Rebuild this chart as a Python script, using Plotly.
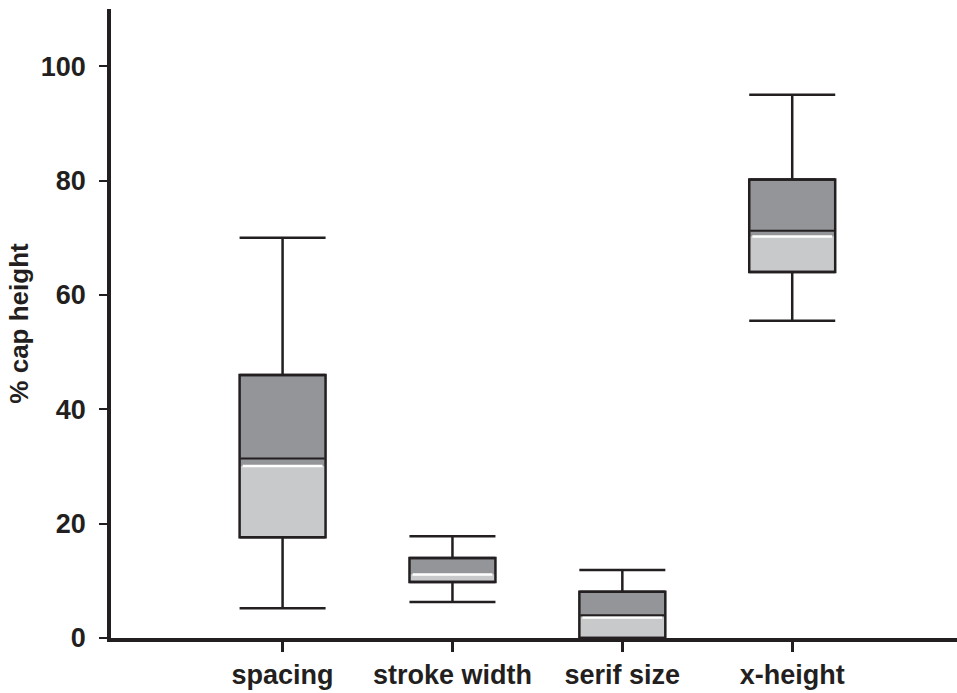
import plotly.graph_objects as go

categories = ["spacing", "stroke width", "serif size", "x-height"]
whisker_low = [5.2, 6.3, 0.0, 55.5]
q1 = [17.6, 9.8, 0.0, 64.0]
median = [30.1, 11.1, 3.6, 70.2]
mean = [31.4, None, 4.0, 71.2]
q3 = [46.0, 14.0, 8.1, 80.2]
whisker_high = [70.0, 17.8, 11.9, 95.0]
y_ticks = [0, 20, 40, 60, 80, 100]

DARK = "#939598"
LIGHT = "#c8c9cb"
INK = "#231f20"
BOXW = 0.506

fig = go.Figure()

# lower (light) half
fig.add_trace(go.Bar(
    x=categories, base=q1, y=[m - a for m, a in zip(median, q1)],
    width=BOXW, marker=dict(color=LIGHT, line=dict(width=0)), hoverinfo="skip"))
# upper (dark) half
fig.add_trace(go.Bar(
    x=categories, base=median, y=[b - m for b, m in zip(q3, median)],
    width=BOXW, marker=dict(color=DARK, line=dict(width=0)), hoverinfo="skip"))

# whiskers with caps (upper)
fig.add_trace(go.Scatter(
    x=categories, y=q3, mode="markers", marker=dict(opacity=0, size=1),
    error_y=dict(type="data", symmetric=False,
                 array=[h - b for h, b in zip(whisker_high, q3)],
                 arrayminus=[0] * len(q3),
                 width=43, thickness=2.5, color=INK),
    hoverinfo="skip"))
# whiskers with caps (lower)
fig.add_trace(go.Scatter(
    x=categories, y=q1, mode="markers", marker=dict(opacity=0, size=1),
    error_y=dict(type="data", symmetric=False,
                 array=[0] * len(q1),
                 arrayminus=[a - l for a, l in zip(q1, whisker_low)],
                 width=43, thickness=2.5, color=INK),
    hoverinfo="skip"))

# white median line
fig.add_trace(go.Scatter(
    x=categories, y=median, mode="markers",
    marker=dict(symbol="line-ew", size=57, line=dict(width=2.5, color="white")),
    hoverinfo="skip"))
# black mean line
fig.add_trace(go.Scatter(
    x=categories, y=mean, mode="markers",
    marker=dict(symbol="line-ew", size=60, line=dict(width=2, color=INK)),
    hoverinfo="skip"))

# box outline
fig.add_trace(go.Bar(
    x=categories, base=q1, y=[b - a for b, a in zip(q3, q1)],
    width=BOXW, marker=dict(color="rgba(0,0,0,0)", line=dict(width=2.5, color=INK)),
    hoverinfo="skip"))

font_bold = dict(family="Liberation Sans", size=27, color=INK, weight="bold")

fig.update_layout(
    width=957, height=693,
    margin=dict(l=111, r=0, t=9, b=55),
    barmode="overlay",
    showlegend=False,
    plot_bgcolor="white", paper_bgcolor="white",
    xaxis=dict(
        type="category", range=[-1.01, 3.97],
        showline=True, linewidth=3.5, linecolor=INK,
        ticks="outside", ticklen=10, tickwidth=2.5, tickcolor=INK,
        showgrid=False, zeroline=False, tickfont=font_bold,
    ),
    yaxis=dict(
        range=[0, 110], tickvals=y_ticks,
        showline=True, linewidth=3.5, linecolor=INK,
        ticks="outside", ticklen=8, tickwidth=2, tickcolor=INK,
        showgrid=False, zeroline=False, tickfont=font_bold,
        ticklabelstandoff=8,
        title=dict(text="% cap height", standoff=6,
                   font=dict(family="Liberation Sans", size=26, color=INK, weight="bold")),
    ),
)

fig.write_html("out.html")
